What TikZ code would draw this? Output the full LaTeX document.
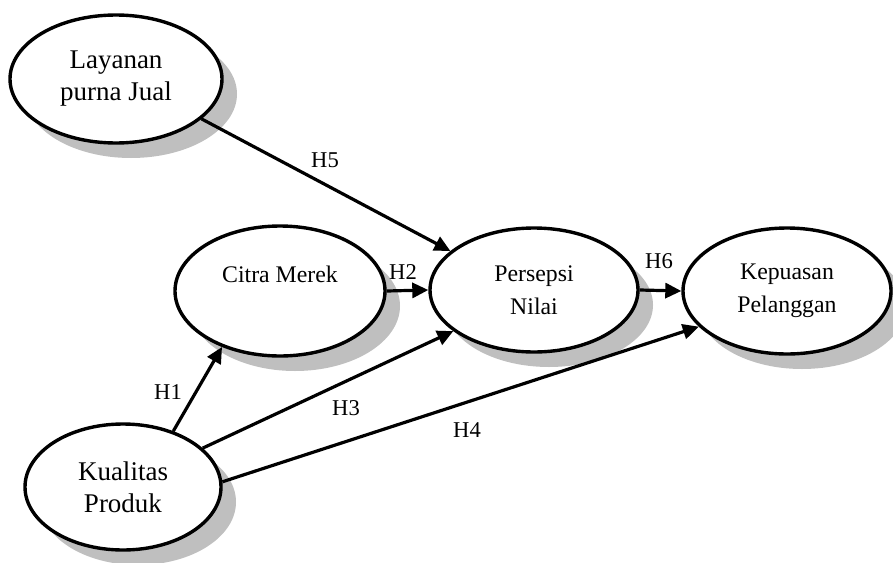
\documentclass[tikz,border=0pt]{standalone}
\usepackage{fontspec}
\setmainfont{Liberation Serif}
\usetikzlibrary{shapes.geometric}
\usetikzlibrary{shadows}
\usetikzlibrary{arrows.meta}

\tikzset{
  var/.style={ellipse, draw, line width=1.7pt, fill=white, align=center,
    drop shadow={shadow xshift=7.5pt, shadow yshift=-7.5pt, fill=black!25, opacity=1},
    font=\fontsize{11.9}{16.5}\selectfont},
  bigvar/.style={var, font=\fontsize{13.5}{16}\selectfont},
  hyp/.style={-{Triangle[length=8pt,width=7.5pt]}, line width=1.6pt},
  hlabel/.style={inner sep=0pt, font=\fontsize{11.3}{13}\selectfont}
}

\begin{document}
\begin{tikzpicture}[x=0.5pt, y=-0.5pt]
  \useasboundingbox (0,0) rectangle (893,562);

  \node[bigvar, minimum width=106pt, minimum height=64pt] (layanan) at (116,79) {Layanan\\purna Jual};
  \node[var, minimum width=105pt, minimum height=65pt] (citra) at (280,291) {Citra Merek\\\mbox{}};
  \node[var, minimum width=104pt, minimum height=62pt] (persepsi) at (534,290) {Persepsi\\Nilai};
  \node[var, minimum width=104pt, minimum height=63pt] (kepuasan) at (787,291) {Kepuasan\\Pelanggan};
  \node[bigvar, minimum width=98pt, minimum height=63pt] (kualitas) at (123,487) {Kualitas\\Produk};

  % hypotheses
  \draw[hyp] (kualitas.48) -- (citra.224);
  \draw[hyp] (citra.east) -- (persepsi.west);
  \draw[hyp] (kualitas.26) -- (persepsi.207);
  \draw[hyp] (kualitas.3) -- (kepuasan.202);
  \draw[hyp] (layanan.335) -- (persepsi.155);
  \draw[hyp] (persepsi.east) -- (kepuasan.west);

  \node[hlabel] (h1) at (168,392) {H1};
  \node[hlabel] (h2) at (403,272) {H2};
  \node[hlabel] (h3) at (346,408) {H3};
  \node[hlabel] (h4) at (467,430) {H4};
  \node[hlabel] (h5) at (325,160) {H5};
  \node[hlabel] (h6) at (659,261) {H6};
\end{tikzpicture}
\end{document}
